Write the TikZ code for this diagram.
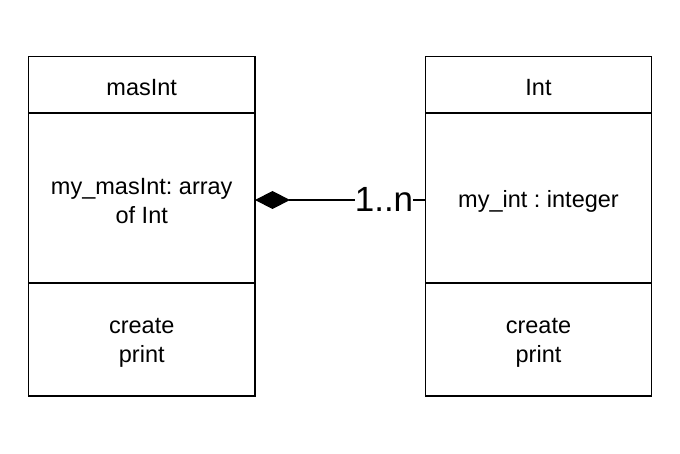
\documentclass[tikz,border=0pt]{standalone}
\usepackage{fontspec}
\setmainfont{Liberation Sans}
\usetikzlibrary{arrows.meta}
\frenchspacing

\tikzset{
  compart/.style={draw, line width=1.3pt, rectangle, minimum width=226.5pt, inner sep=0pt, outer sep=0pt,
    align=center, font=\fontsize{23.5}{29}\selectfont},
  txt/.style={label={[yshift=-3pt,align=center,font=\fontsize{23.5}{29}\selectfont]center:#1}},
  conn/.style={line width=1.3pt},
}

\begin{document}
\begin{tikzpicture}[x=1pt,y=1pt,yscale=-1,xscale=1]
\useasboundingbox (0,0) rectangle (680,454);

%Class: masInt
\node [compart, minimum height=56.5pt, txt={masInt}] (masHead) at (141.75,84.75) {};
\node [compart, minimum height=170pt, txt={my\_masInt: array\\of Int}] (masAttr) at (141.75,198) {};
\node [compart, minimum height=113pt, txt={create\\print}] (masOps) at (141.75,339.5) {};

%Class: Int
\node [compart, minimum height=56.5pt, txt={Int}] (intHead) at (538.5,84.75) {};
\node [compart, minimum height=170pt, txt={my\_int : integer}] (intAttr) at (538.5,198) {};
\node [compart, minimum height=113pt, txt={create\\print}] (intOps) at (538.5,339.5) {};

% multiplicity
\node [inner sep=0pt, font=\fontsize{35}{35}\selectfont] (mult) at (384,199) {1..n};

%Composition
\draw [conn, {Diamond[length=35pt,width=18pt]}-] (masAttr.east |- 0,200) -- (mult.west |- 0,200);
\draw [conn] (mult.east |- 0,200) -- (intAttr.west |- 0,200);

\end{tikzpicture}
\end{document}
